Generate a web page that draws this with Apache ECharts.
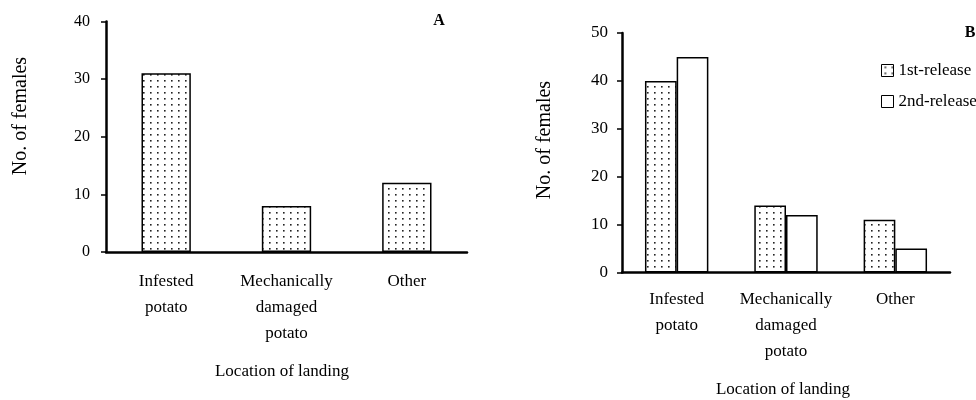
<!DOCTYPE html>
<html>
<head>
<meta charset="utf-8">
<script src="https://cdn.jsdelivr.net/npm/echarts@6/dist/echarts.min.js"></script>
<style>
html,body{margin:0;padding:0;background:#fff;}
#chart{width:976px;height:400px;}
</style>
</head>
<body>
<div id="chart"></div>
<script>
// ---- data ----
var categories = ['Infested\npotato', 'Mechanically\ndamaged\npotato', 'Other'];
var femalesA = [31, 8, 12];
var release1 = [40, 14, 11];
var release2 = [45, 12, 5];
var seriesNames = ['1st-release', '2nd-release'];
var yMaxA = 40, yMaxB = 50, yStep = 10;

// dotted fill pattern
var pc = document.createElement('canvas');
pc.width = 7; pc.height = 6;
var pctx = pc.getContext('2d');
pctx.fillStyle = '#ffffff';
pctx.fillRect(0, 0, 7, 6);
pctx.fillStyle = '#222222';
pctx.fillRect(3, 2, 1.6, 1.6);
var dotted = { image: pc, repeat: 'repeat' };

var FONT = 'Liberation Serif';
var chart = echarts.init(document.getElementById('chart'), null, { renderer: 'canvas' });

function yAx(gi, max, fs, margin) {
  return {
    type: 'value', gridIndex: gi, min: 0, max: max, interval: yStep,
    axisLine: { show: true, lineStyle: { color: '#000', width: 2.5 } },
    axisTick: { show: true, length: 5, lineStyle: { color: '#000', width: 1.5 } },
    splitLine: { show: false },
    axisLabel: { color: '#000', fontFamily: FONT, fontSize: fs, margin: margin }
  };
}
function xAx(gi, margin) {
  return {
    type: 'category', gridIndex: gi, data: categories,
    axisLine: { show: true, lineStyle: { color: '#000', width: 2.5 } },
    axisTick: { show: false },
    axisLabel: { color: '#000', fontFamily: FONT, fontSize: 17, lineHeight: 26, margin: margin, interval: 0 }
  };
}

var option = {
  animation: false,
  backgroundColor: '#fff',
  grid: [
    { left: 106, right: 509, top: 21.5, bottom: 148 },
    { left: 622, right: 26, top: 33, bottom: 127.5 }
  ],
  xAxis: [xAx(0, 17), xAx(1, 14)],
  yAxis: [yAx(0, yMaxA, 16, 16), yAx(1, yMaxB, 17, 14)],
  legend: {
    orient: 'vertical', left: 876, top: 57, itemWidth: 12, itemHeight: 12, itemGap: 14,
    data: seriesNames,
    itemStyle: { borderWidth: 1 },
    textStyle: { color: '#000', fontFamily: FONT, fontSize: 17 },
    icon: 'rect'
  },
  series: [
    {
      type: 'bar', xAxisIndex: 0, yAxisIndex: 0, data: femalesA, barCategoryGap: '59%',
      itemStyle: { color: dotted, borderColor: '#000', borderWidth: 1.5 }
    },
    {
      name: seriesNames[0], type: 'bar', xAxisIndex: 1, yAxisIndex: 1, data: release1,
      barGap: '0%', barCategoryGap: '42%',
      itemStyle: { color: dotted, borderColor: '#000', borderWidth: 1.5 }
    },
    {
      name: seriesNames[1], type: 'bar', xAxisIndex: 1, yAxisIndex: 1, data: release2,
      barGap: '0%', barCategoryGap: '42%',
      itemStyle: { color: '#fff', borderColor: '#000', borderWidth: 1.5 }
    }
  ],
  graphic: [
    { type: 'text', x: 21, y: 116, rotation: Math.PI / 2,
      style: { text: 'No. of females', fontFamily: FONT, fontSize: 20, fill: '#000', align: 'center', verticalAlign: 'middle' } },
    { type: 'text', x: 545, y: 140, rotation: Math.PI / 2,
      style: { text: 'No. of females', fontFamily: FONT, fontSize: 20, fill: '#000', align: 'center', verticalAlign: 'middle' } },
    { type: 'text', x: 282, y: 372,
      style: { text: 'Location of landing', fontFamily: FONT, fontSize: 17, fill: '#000', align: 'center', verticalAlign: 'middle' } },
    { type: 'text', x: 783, y: 390,
      style: { text: 'Location of landing', fontFamily: FONT, fontSize: 17, fill: '#000', align: 'center', verticalAlign: 'middle' } },
    { type: 'text', x: 439, y: 21,
      style: { text: 'A', fontFamily: FONT, fontSize: 16, fontWeight: 'bold', fill: '#000', align: 'center', verticalAlign: 'middle' } },
    { type: 'text', x: 970, y: 33,
      style: { text: 'B', fontFamily: FONT, fontSize: 16, fontWeight: 'bold', fill: '#000', align: 'center', verticalAlign: 'middle' } }
  ]
};
chart.setOption(option);
</script>
</body>
</html>
